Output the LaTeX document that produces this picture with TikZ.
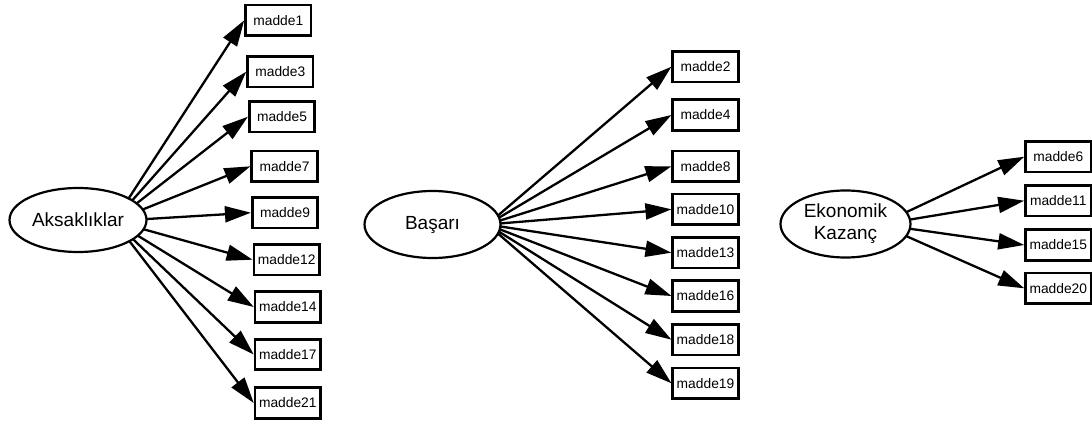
\documentclass[tikz,border=0pt]{standalone}
\usepackage{fontspec}
\setmainfont{Liberation Sans}
\usetikzlibrary{arrows.meta,intersections,shapes.geometric}
\tikzset{
  lat/.style={ellipse, draw, line width=2.2pt, inner sep=0pt, align=center,
    font=\fontsize{19}{22}\selectfont},
  item/.style={rectangle, draw, line width=2.6pt, inner sep=0pt,
    minimum width=65.5pt, minimum height=30.5pt, font=\fontsize{13.8}{16}\selectfont},
  edge/.style={line width=2.3pt, -{Triangle[length=26pt,width=16pt]}}
}
\begin{document}
\begin{tikzpicture}[x=1pt,y=-1pt]
\useasboundingbox (0,0) rectangle (1092,425);
% latent variables
\node[lat, name path=pA, minimum width=137pt, minimum height=64pt] (A) at (78,220) {Aksaklıklar};
\node[lat, name path=pB, minimum width=136pt, minimum height=67pt] (B) at (432.5,224.5) {Başarı};
\node[lat, name path=pE, minimum width=130pt, minimum height=67pt] (E) at (845.5,224) {Ekonomik\\Kazanç};
\coordinate (oA) at (114,221);
\coordinate (oB) at (487.5,224.5);
\coordinate (oE) at (880,224.5);
% indicators
\foreach \k/\x/\y in {1/278.3/20.3, 3/280.3/71.7, 5/282/116.7, 7/284.5/166.3, 9/285/212.7,
  12/286.7/259.7, 14/287.8/307, 17/287.8/354.5, 21/287.8/403,
  2/705.5/66.7, 4/705.5/115, 8/705.5/166.3, 10/705.5/209.3, 13/705.5/252.7,
  16/705.5/296, 18/705.5/339.7, 19/705.5/383.3,
  6/1058.3/156.7, 11/1058.3/200.7, 15/1058.3/245, 20/1058.3/288.3}
  \node[item] (m\k) at (\x,\y) {madde\k};
% loadings
\foreach \k in {1,3,5,7,9,12,14,17,21} {
  \path[name path=ray] (oA) -- (m\k.west);
  \draw[edge, name intersections={of=pA and ray}] (intersection-1) -- (m\k.west);
}
\foreach \k in {2,4,8,10,13,16,18,19} {
  \path[name path=ray] (oB) -- (m\k.west);
  \draw[edge, name intersections={of=pB and ray}] (intersection-1) -- (m\k.west);
}
\foreach \k in {6,11,15,20} {
  \path[name path=ray] (oE) -- (m\k.west);
  \draw[edge, name intersections={of=pE and ray}] (intersection-1) -- (m\k.west);
}
\end{tikzpicture}
\end{document}
